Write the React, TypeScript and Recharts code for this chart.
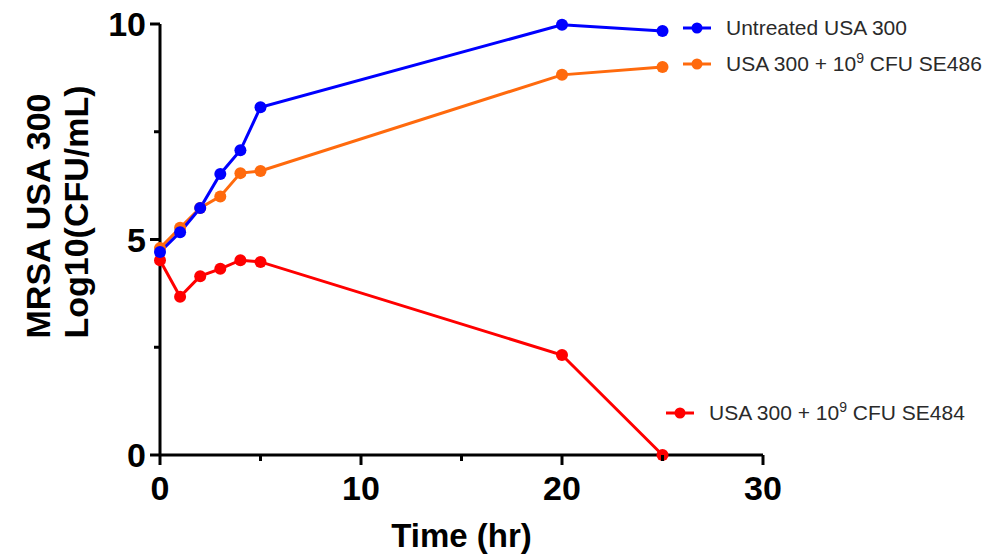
import { LineChart, Line, XAxis, YAxis, Legend } from "recharts";

const times = [0, 1, 2, 3, 4, 5, 20, 25];
const untreated = [4.71, 5.17, 5.73, 6.52, 7.07, 8.07, 9.98, 9.84];
const se486 = [4.8, 5.27, 5.73, 6.0, 6.54, 6.59, 8.82, 9.0];
const se484 = [4.52, 3.67, 4.15, 4.32, 4.52, 4.48, 2.32, 0];

const xTicks = [0, 5, 10, 15, 20, 25, 30];
const xLabeled = [0, 10, 20, 30];
const yTicks = [0, 2.5, 5, 7.5, 10];
const yLabeled = [0, 5, 10];

const seriesNames = [
  "Untreated USA 300",
  "USA 300 + 10^9 CFU SE486",
  "USA 300 + 10^9 CFU SE484",
];

const data = times.map((t, i) => ({
  time: t,
  untreated: untreated[i],
  se486: se486[i],
  se484: se484[i],
}));

const FONT = "'Liberation Sans', Arial, sans-serif";

function XTick(props: any) {
  const { x, y, payload } = props;
  const major = xLabeled.includes(payload.value);
  return (
    <g>
      <line x1={x} x2={x} y1={y} y2={y + (major ? 10 : 6)} stroke="#000" strokeWidth={3} />
      {major && (
        <text x={x} y={y + 45} textAnchor="middle" fontFamily={FONT} fontWeight="bold" fontSize={34} fill="#000">
          {payload.value}
        </text>
      )}
    </g>
  );
}

function YTick(props: any) {
  const { x, y, payload } = props;
  const major = yLabeled.includes(payload.value);
  return (
    <g>
      <line x1={x} x2={x - (major ? 10 : 6)} y1={y} y2={y} stroke="#000" strokeWidth={3} />
      {major && (
        <text x={x - 14} y={y + 12} textAnchor="end" fontFamily={FONT} fontWeight="bold" fontSize={34} fill="#000">
          {payload.value}
        </text>
      )}
    </g>
  );
}

function renderName(name: string) {
  const parts = name.split("^9");
  if (parts.length === 1) return name;
  return (
    <>
      {parts[0]}
      <span style={{ fontSize: 14, position: "relative", top: -8 }}>9</span>
      {parts[1]}
    </>
  );
}

const legendSpots = [
  { left: 683, top: 28 },
  { left: 683, top: 64 },
  { left: 666, top: 413 },
];

function LegendBox(props: any) {
  const { payload } = props;
  return (
    <div style={{ position: "relative", width: 992, height: 559 }}>
      {(payload || []).map((p: any) => {
        const idx = seriesNames.indexOf(p.value);
        const spot = legendSpots[idx];
        if (!spot) return null;
        return (
          <div
            key={p.value}
            style={{
              position: "absolute",
              left: spot.left,
              top: spot.top - 14,
              height: 28,
              display: "flex",
              alignItems: "center",
              fontFamily: FONT,
              fontSize: 21,
              color: "#2a2a2a",
              whiteSpace: "nowrap",
            }}
          >
            <svg width={28} height={14} style={{ marginRight: 15 }}>
              <line x1={0} x2={28} y1={7} y2={7} stroke={p.color} strokeWidth={3} />
              <circle cx={14} cy={7} r={5.5} fill={p.color} />
            </svg>
            <span>{renderName(p.value)}</span>
          </div>
        );
      })}
    </div>
  );
}

export default function App() {
  return (
    <div style={{ position: "absolute", left: 0, top: 0, background: "#fff" }}>
      <LineChart
        width={992}
        height={559}
        data={data}
        margin={{ top: 24, right: 229, bottom: 34, left: 0 }}
      >
        <XAxis
          dataKey="time"
          type="number"
          domain={[0, 30]}
          ticks={xTicks}
          tickSize={0}
          tickMargin={0}
          tickLine={false}
          tick={<XTick />}
          axisLine={{ stroke: "#000", strokeWidth: 3 }}
          height={70}
          label={{
            value: "Time (hr)",
            position: "insideBottom",
            offset: -22,
            fontFamily: FONT,
            fontWeight: "bold",
            fontSize: 33,
            fill: "#000",
          }}
        />
        <YAxis
          type="number"
          domain={[0, 10]}
          ticks={yTicks}
          tickSize={0}
          tickMargin={0}
          tickLine={false}
          tick={<YTick />}
          axisLine={{ stroke: "#000", strokeWidth: 3 }}
          width={160}
          label={{
            content: () => (
              <g fontFamily={FONT} fontWeight="bold" fontSize={34} fill="#000">
                <text x={50} y={216} textAnchor="middle" transform="rotate(-90 50 216)">
                  MRSA USA 300
                </text>
                <text x={88} y={212} textAnchor="middle" transform="rotate(-90 88 212)">
                  Log10(CFU/mL)
                </text>
              </g>
            ),
          }}
        />
        <Legend
          layout="horizontal"
          verticalAlign="middle"
          align="center"
          wrapperStyle={{ position: "absolute", left: 0, top: 0, width: 992, height: 559, pointerEvents: "none" }}
          content={<LegendBox />}
        />
        <Line
          dataKey="se484"
          name={seriesNames[2]}
          stroke="#ff0000"
          strokeWidth={3}
          dot={{ r: 6, fill: "#ff0000", stroke: "none" }}
          activeDot={false}
          isAnimationActive={false}
        />
        <Line
          dataKey="se486"
          name={seriesNames[1]}
          stroke="#ff6a0d"
          strokeWidth={3}
          dot={{ r: 6, fill: "#ff6a0d", stroke: "none" }}
          activeDot={false}
          isAnimationActive={false}
        />
        <Line
          dataKey="untreated"
          name={seriesNames[0]}
          stroke="#0000ff"
          strokeWidth={3}
          dot={{ r: 6, fill: "#0000ff", stroke: "none" }}
          activeDot={false}
          isAnimationActive={false}
        />
      </LineChart>
    </div>
  );
}
